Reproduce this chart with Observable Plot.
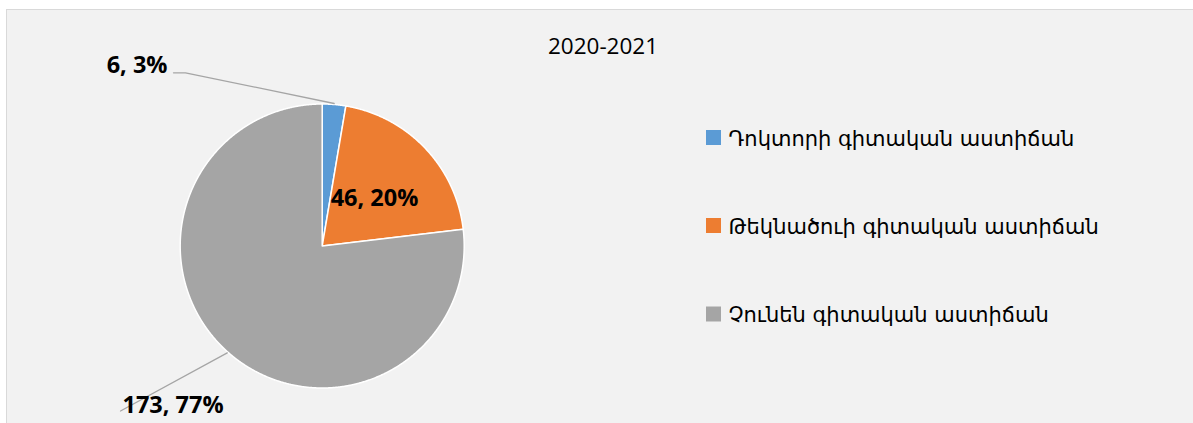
<!DOCTYPE html>
<html>
<head>
<meta charset="utf-8">
<script src="https://cdn.jsdelivr.net/npm/d3@7"></script>
<script src="https://cdn.jsdelivr.net/npm/@observablehq/plot@0.6"></script>
<style>
  html, body { margin: 0; padding: 0; background: #ffffff; overflow: hidden; }
  #panel { position: absolute; left: 6px; top: 9px; width: 1200px; height: 430px;
           background: #F2F2F2; border: 1px solid #D9D9D9; box-sizing: border-box; }
  #chart { position: absolute; left: 0; top: 0; }
  #chart svg { background: transparent !important; }
</style>
</head>
<body>
<div id="panel"></div>
<div id="chart"></div>
<script>
// ---- data ----
const title = "2020-2021";
const categories = ["Դոկտորի գիտական աստիճան", "Թեկնածուի գիտական աստիճան", "Չունեն գիտական աստիճան"];
const values = [6, 46, 173];
const colors = ["#5B9BD5", "#ED7D31", "#A5A5A5"];

// ---- layout ----
const W = 1193, H = 423;
const cx = 321.7, cy = 245.5, R = 142;
const legendX = 706, legendSize = 15, legendYs = [137.5, 225.5, 314];
const labelPlace = [
  {x: 167, y: 65, anchor: "end", elbow: [[173, 72.3], [185, 72.3]]},
  {x: 374, y: 198, anchor: "middle", elbow: null},
  {x: 122, y: 405, anchor: "start", elbow: [[120, 410.5]]}
];

const total = d3.sum(values);
const arcs = d3.pie().sort(null).startAngle(0).endAngle(2 * Math.PI)(values);

const pt = (a, r) => [cx + r * Math.sin(a), cy - r * Math.cos(a)];

// slice polygons
const slicePts = [];
arcs.forEach((a, i) => {
  const cat = categories[i];
  slicePts.push({cat, x: cx, y: cy});
  const n = Math.max(2, Math.ceil((a.endAngle - a.startAngle) / 0.005));
  for (let k = 0; k <= n; k++) {
    const t = a.startAngle + (a.endAngle - a.startAngle) * k / n;
    const [x, y] = pt(t, R);
    slicePts.push({cat, x, y});
  }
  slicePts.push({cat, x: cx, y: cy});
});

// labels
const labels = arcs.map((a, i) => ({
  text: `${values[i]}, ${Math.round(values[i] / total * 100)}%`,
  x: labelPlace[i].x, y: labelPlace[i].y, anchor: labelPlace[i].anchor
}));

// leader lines
const leaders = [];
arcs.forEach((a, i) => {
  const p = labelPlace[i];
  if (!p.elbow) return;
  const mid = (a.startAngle + a.endAngle) / 2;
  p.elbow.forEach(([x, y]) => leaders.push({id: i, x, y}));
  const [ex, ey] = pt(mid, R + 1);
  leaders.push({id: i, x: ex, y: ey});
});

const legend = categories.map((c, i) => ({cat: c, y: legendYs[i]}));

const labelMark = (anchor) => Plot.text(labels.filter(d => d.anchor === anchor), {
  x: "x", y: "y", text: "text", textAnchor: anchor, fill: "#000000",
  fontFamily: "'Open Sans', sans-serif", fontWeight: "bold", fontSize: 23.5
});

const chart = Plot.plot({
  width: W, height: H,
  margin: 0,
  style: {background: "transparent"},
  x: {domain: [0, W], range: [0, W], axis: null},
  y: {domain: [0, H], range: [0, H], axis: null},
  color: {domain: categories, range: colors},
  marks: [
    Plot.line(slicePts, {x: "x", y: "y", z: "cat", fill: "cat", stroke: "#ffffff", strokeWidth: 1.5, strokeLinejoin: "round", curve: "linear"}),
    Plot.line(leaders, {x: "x", y: "y", z: "id", stroke: "#A5A5A5", strokeWidth: 1.3}),
    labelMark("start"), labelMark("middle"), labelMark("end"),
    Plot.text([title], {x: 602.5, y: 46.5, text: d => d, textAnchor: "middle", fill: "#000000",
      fontFamily: "'Open Sans', sans-serif", fontSize: 22.5}),
    Plot.rect(legend, {x1: legendX, x2: legendX + legendSize, y1: d => d.y - legendSize / 2, y2: d => d.y + legendSize / 2, fill: "cat"}),
    Plot.text(legend, {x: legendX + 22, y: d => d.y + 1, text: "cat", textAnchor: "start", fill: "#000000",
      fontFamily: "'DejaVu Sans', sans-serif", fontSize: 21})
  ]
});
document.getElementById("chart").appendChild(chart);
</script>
</body>
</html>
